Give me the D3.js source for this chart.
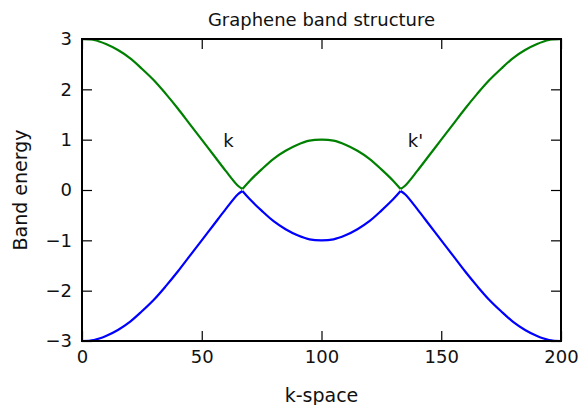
<!DOCTYPE html>
<html>
<head>
<meta charset="utf-8">
<script src="https://cdn.jsdelivr.net/npm/d3@7/dist/d3.min.js"></script>
<style>
	body { margin: 0; background: #fff; }
	text { font-family: "DejaVu Sans", sans-serif; fill: #111; }
	.tick line { stroke: #000; stroke-width: 1.2; }
</style>
</head>
<body>
<div id="chart"></div>
<script>
var width = 580,
	height = 405;

// values
var kSpace = [0, 5, 10, 15, 20, 25, 30, 35, 40, 45, 50, 55, 60, 65, 67, 70, 75, 80, 85, 90, 95, 100,
	105, 110, 115, 120, 125, 130, 133, 135, 140, 145, 150, 155, 160, 165, 170, 175, 180, 185, 190, 195, 200];
var upperBand = [3, 2.98, 2.9, 2.78, 2.62, 2.41, 2.18, 1.91, 1.62, 1.31, 1.0, 0.69, 0.38, 0.09, 0.02, 0.18, 0.41, 0.62, 0.78, 0.9, 0.98, 1.0,
	0.98, 0.9, 0.78, 0.62, 0.41, 0.18, 0.02, 0.09, 0.38, 0.69, 1.0, 1.31, 1.62, 1.91, 2.18, 2.41, 2.62, 2.78, 2.9, 2.98, 3];
var lowerBand = [-3, -2.98, -2.9, -2.78, -2.62, -2.41, -2.18, -1.91, -1.62, -1.31, -1.0, -0.69, -0.38, -0.09, -0.02, -0.18, -0.41, -0.62, -0.78, -0.9, -0.98, -1.0,
	-0.98, -0.9, -0.78, -0.62, -0.41, -0.18, -0.02, -0.09, -0.38, -0.69, -1.0, -1.31, -1.62, -1.91, -2.18, -2.41, -2.62, -2.78, -2.9, -2.98, -3];
var cuspIndex = [14, 28];
var xTicks = [0, 50, 100, 150, 200];
var yTicks = [-3, -2, -1, 0, 1, 2, 3];
var pointLabels = [{ text: "k", x: 59, y: 0.85 }, { text: "k'", x: 136, y: 0.85 }];

var margin = { top: 39, right: 19, bottom: 64, left: 82 };
var plotW = width - margin.left - margin.right,
	plotH = height - margin.top - margin.bottom;

var svg = d3.select("#chart")
	.append("svg")
	.attr("width", width)
	.attr("height", height);

var g = svg.append("g")
	.attr("transform", "translate(" + margin.left + "," + margin.top + ")");

var x = d3.scaleLinear().domain([0, 200]).range([0, plotW]);
var y = d3.scaleLinear().domain([-3, 3]).range([plotH, 0]);

// split each band at the cusps so the corners stay sharp
function segments(values) {
	var cuts = [0].concat(cuspIndex).concat([kSpace.length - 1]);
	var out = [];
	for (var i = 0; i < cuts.length - 1; i++) {
		var seg = [];
		for (var j = cuts[i]; j <= cuts[i + 1]; j++) {
			seg.push([kSpace[j], values[j]]);
		}
		out.push(seg);
	}
	return out;
}

var line = d3.line()
	.x(function(d) { return x(d[0]); })
	.y(function(d) { return y(d[1]); })
	.curve(d3.curveCatmullRom.alpha(0.5));

var bands = [
	{ values: upperBand, color: "#008000" },
	{ values: lowerBand, color: "#0000ff" }
];

bands.forEach(function(b) {
	g.selectAll(null)
		.data(segments(b.values))
		.enter()
		.append("path")
		.attr("d", line)
		.attr("fill", "none")
		.attr("stroke", b.color)
		.attr("stroke-width", 2.2)
		.attr("stroke-linejoin", "round");
});

// axes, ticks pointing inward on all four sides
g.append("g")
	.attr("transform", "translate(0," + plotH + ")")
	.call(d3.axisBottom(x).tickValues(xTicks).tickSize(-10).tickPadding(9));
g.append("g")
	.call(d3.axisLeft(y).tickValues(yTicks).tickSize(-10).tickPadding(10)
		.tickFormat(function(d) { return d < 0 ? "\u2212" + Math.abs(d) : d; }));
g.append("g")
	.call(d3.axisTop(x).tickValues(xTicks).tickSize(-10).tickFormat(""));
g.append("g")
	.attr("transform", "translate(" + plotW + ",0)")
	.call(d3.axisRight(y).tickValues(yTicks).tickSize(-10).tickFormat(""));

g.selectAll(".domain").remove();
g.selectAll(".tick text")
	.attr("font-size", "18px")
	.attr("font-family", "DejaVu Sans, sans-serif")
	.attr("fill", "#111");

// frame
g.append("rect")
	.attr("width", plotW)
	.attr("height", plotH)
	.attr("fill", "none")
	.attr("stroke", "#000")
	.attr("stroke-width", 2);

// point labels
g.selectAll(".pointLabel")
	.data(pointLabels)
	.enter()
	.append("text")
	.attr("class", "pointLabel")
	.attr("x", function(d) { return x(d.x); })
	.attr("y", function(d) { return y(d.y); })
	.attr("font-size", "18px")
	.text(function(d) { return d.text; });

// title and axis labels
svg.append("text")
	.attr("x", margin.left + plotW / 2)
	.attr("y", 26)
	.attr("text-anchor", "middle")
	.attr("font-size", "18px")
	.text("Graphene band structure");

svg.append("text")
	.attr("x", margin.left + plotW / 2)
	.attr("y", 402)
	.attr("text-anchor", "middle")
	.attr("font-size", "19px")
	.text("k-space");

svg.append("text")
	.attr("transform", "translate(27," + (margin.top + plotH / 2) + ") rotate(-90)")
	.attr("text-anchor", "middle")
	.attr("font-size", "19px")
	.text("Band energy");
</script>
</body>
</html>
